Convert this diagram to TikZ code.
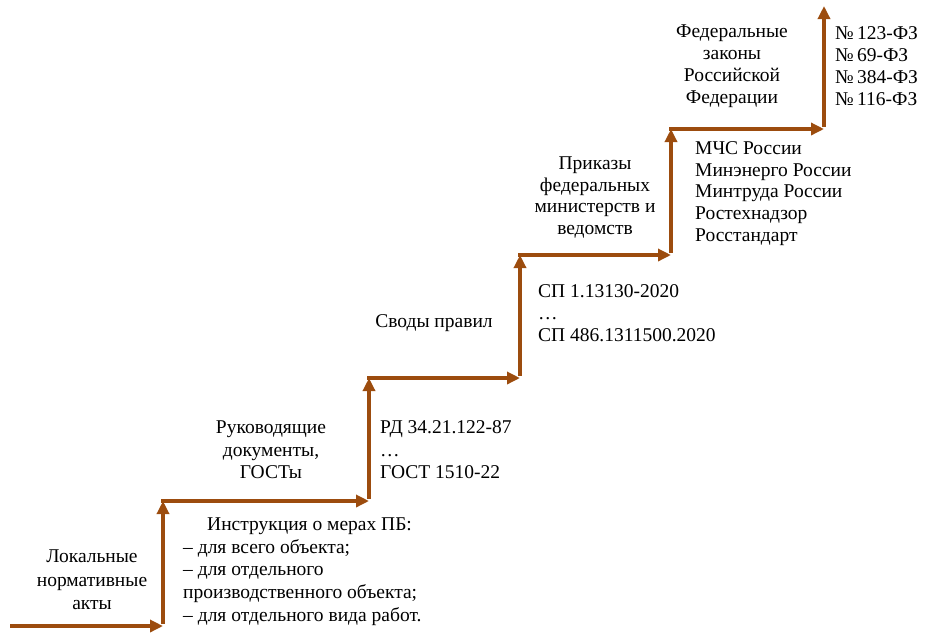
\documentclass[tikz,border=0pt]{standalone}
\usepackage{fontspec}
\setmainfont{Liberation Serif}
\usetikzlibrary{arrows.meta}

\definecolor{stairbrown}{RGB}{156,76,14}

\begin{document}
\begin{tikzpicture}[
    x=1pt, y=-1pt,
    arrow/.style={-{Triangle[length=13pt, width=12pt]}, line width=4pt, draw=stairbrown},
    txt/.style={inner sep=0pt, align=center, font=\fontsize{19.5}{21.8}\selectfont},
    txtl/.style={txt, align=left}
]
\useasboundingbox (0,0) rectangle (925,633);

% corners of the stairs
\coordinate (c0) at (10,626);
\coordinate (c1) at (163,626);
\coordinate (c2) at (163,501);
\coordinate (c3) at (369,501);
\coordinate (c4) at (369,378);
\coordinate (c5) at (520,378);
\coordinate (c6) at (520,255);
\coordinate (c7) at (671,255);
\coordinate (c8) at (671,129);
\coordinate (c9) at (824,129);
\coordinate (c10) at (824,6);

\draw[arrow] (c0) -- (c1);
\draw[arrow] ([yshift=2pt]c1) -- (c2);
\draw[arrow] ([xshift=-2pt]c2) -- (c3);
\draw[arrow] ([yshift=2pt]c3) -- (c4);
\draw[arrow] ([xshift=-2pt]c4) -- (c5);
\draw[arrow] ([yshift=2pt]c5) -- (c6);
\draw[arrow] ([xshift=-2pt]c6) -- (c7);
\draw[arrow] ([yshift=2pt]c7) -- (c8);
\draw[arrow] ([xshift=-2pt]c8) -- (c9);
\draw[arrow] ([yshift=2pt]c9) -- (c10);

% levels
\node[txt, font=\fontsize{19.5}{23.5}\selectfont] (lokal) at (92,580) {Локальные\\нормативные\\акты};
\node[txtl, font=\fontsize{19.5}{22.8}\selectfont, anchor=west] (instr) at (183,571.5) {\hspace*{24pt}Инструкция о мерах ПБ:\\– для всего объекта;\\– для отдельного\\производственного объекта;\\– для отдельного вида работ.};

\node[txt, font=\fontsize{19.5}{22.5}\selectfont] (ruk) at (271,450) {Руководящие\\документы,\\ГОСТы};
\node[txtl, font=\fontsize{19.5}{22.5}\selectfont, anchor=west] (rd) at (380,450) {РД 34.21.122-87\\\ldots\\ГОСТ 1510-22};

\node[txt] (svody) at (434,323) {Своды правил};
\node[txtl, anchor=west] (sp) at (538,313) {СП 1.13130-2020\\\ldots\\СП 486.1311500.2020};

\node[txt] (prik) at (595,197.5) {Приказы\\федеральных\\министерств и\\ведомств};
\node[txtl, anchor=west] (mchs) at (695,193.5) {МЧС России\\Минэнерго России\\Минтруда России\\Ростехнадзор\\Росстандарт};

\node[txt] (fedz) at (732,66) {Федеральные\\законы\\Российской\\Федерации};
\node[txtl, anchor=west] (nums) at (835,66) {№\,123-ФЗ\\№\,69-ФЗ\\№\,384-ФЗ\\№\,116-ФЗ};

\end{tikzpicture}
\end{document}
